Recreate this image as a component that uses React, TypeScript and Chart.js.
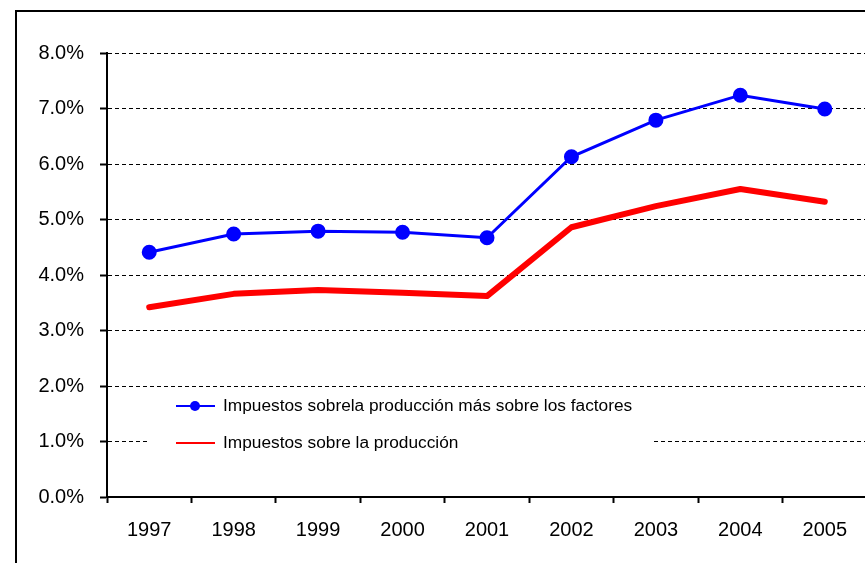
import { useEffect, useRef } from "react";
import { Chart, registerables } from "chart.js";

Chart.register(...registerables);

const years = ["1997", "1998", "1999", "2000", "2001", "2002", "2003", "2004", "2005"];
const produccionMasFactores = [4.41, 4.74, 4.79, 4.77, 4.67, 6.13, 6.79, 7.24, 6.99];
const produccion = [3.42, 3.66, 3.73, 3.68, 3.62, 4.86, 5.24, 5.55, 5.32];
const labelMasFactores = "Impuestos sobrela producción más sobre los factores";
const labelProduccion = "Impuestos sobre la producción";
const yMin = 0;
const yMax = 8;
const yStep = 1;

const FONT = "'Liberation Sans', Arial, sans-serif";

const boxLegend = {
  id: "boxLegend",
  afterDatasetsDraw(chart: any) {
    const { ctx, chartArea } = chart;
    const x0 = chartArea.left + 43;
    const y0 = chartArea.top + 340;
    ctx.save();
    ctx.fillStyle = "#ffffff";
    ctx.fillRect(x0, y0, 502, 72);
    chart.data.datasets.forEach((ds: any, i: number) => {
      const cy = y0 + 13 + i * 37;
      ctx.strokeStyle = ds.borderColor;
      ctx.lineWidth = 2;
      ctx.setLineDash([]);
      ctx.beginPath();
      ctx.moveTo(x0 + 26, cy);
      ctx.lineTo(x0 + 65, cy);
      ctx.stroke();
      if (ds.pointRadius > 0) {
        ctx.fillStyle = ds.pointBackgroundColor;
        ctx.beginPath();
        ctx.arc(x0 + 45, cy, 5, 0, Math.PI * 2);
        ctx.fill();
      }
      ctx.fillStyle = "#000";
      ctx.font = `17.3px ${FONT}`;
      ctx.textBaseline = "middle";
      ctx.textAlign = "left";
      ctx.fillText(ds.label, x0 + 73, cy);
    });
    ctx.restore();
  },
};

export default function App() {
  const ref = useRef<HTMLCanvasElement>(null);
  useEffect(() => {
    if (!ref.current) return;
    const chart = new Chart(ref.current, {
      type: "line",
      data: {
        labels: years,
        datasets: [
          {
            label: labelMasFactores,
            data: produccionMasFactores,
            borderColor: "#0000ff",
            backgroundColor: "#0000ff",
            pointBackgroundColor: "#0000ff",
            pointBorderColor: "#0000ff",
            borderWidth: 3,
            pointRadius: 6,
            tension: 0,
          },
          {
            label: labelProduccion,
            data: produccion,
            borderColor: "#ff0000",
            backgroundColor: "#ff0000",
            pointBackgroundColor: "#ff0000",
            borderWidth: 6,
            pointRadius: 0,
            tension: 0,
            borderCapStyle: "round",
            borderJoinStyle: "round",
          },
        ],
      },
      options: {
        animation: false,
        responsive: false,
        devicePixelRatio: 1,
        layout: { padding: { left: 0, top: 53, right: 33, bottom: 0 } },
        plugins: { legend: { display: false }, tooltip: { enabled: false } },
        scales: {
          x: {
            type: "category",
            offset: true,
            grid: {
              offset: true,
              drawOnChartArea: false,
              drawTicks: true,
              tickLength: 6,
              tickColor: "#000",
              tickWidth: 2,
            },
            border: { display: true, color: "#000", width: 2 },
            ticks: {
              color: "#000",
              font: { family: FONT, size: 20 },
              padding: 15,
              maxRotation: 0,
            },
            afterFit: (axis: any) => {
              axis.height = 66;
            },
          },
          y: {
            min: yMin,
            max: yMax,
            grid: {
              color: "#000",
              lineWidth: 1,
              drawTicks: true,
              tickLength: 7,
              tickColor: "#000",
              tickWidth: 2,
              tickBorderDash: [],
            },
            border: { display: true, color: "#000", width: 2, dash: [4, 3] },
            ticks: {
              stepSize: yStep,
              color: "#000",
              font: { family: FONT, size: 20 },
              padding: 16,
              callback: (v: any) => Number(v).toFixed(1) + "%",
            },
            afterFit: (axis: any) => {
              axis.width = 107;
            },
          },
        },
      },
      plugins: [boxLegend],
    } as any);
    return () => chart.destroy();
  }, []);

  return (
    <div
      style={{
        position: "absolute",
        left: 0,
        top: 0,
        width: 865,
        height: 563,
        overflow: "hidden",
        background: "#fff",
      }}
    >
      <div
        style={{
          position: "absolute",
          left: 15,
          top: 10,
          width: 900,
          height: 600,
          border: "2px solid #000",
          boxSizing: "border-box",
        }}
      />
      <canvas
        ref={ref}
        width={900}
        height={563}
        style={{ position: "absolute", left: 0, top: 0, width: 900, height: 563 }}
      />
    </div>
  );
}
